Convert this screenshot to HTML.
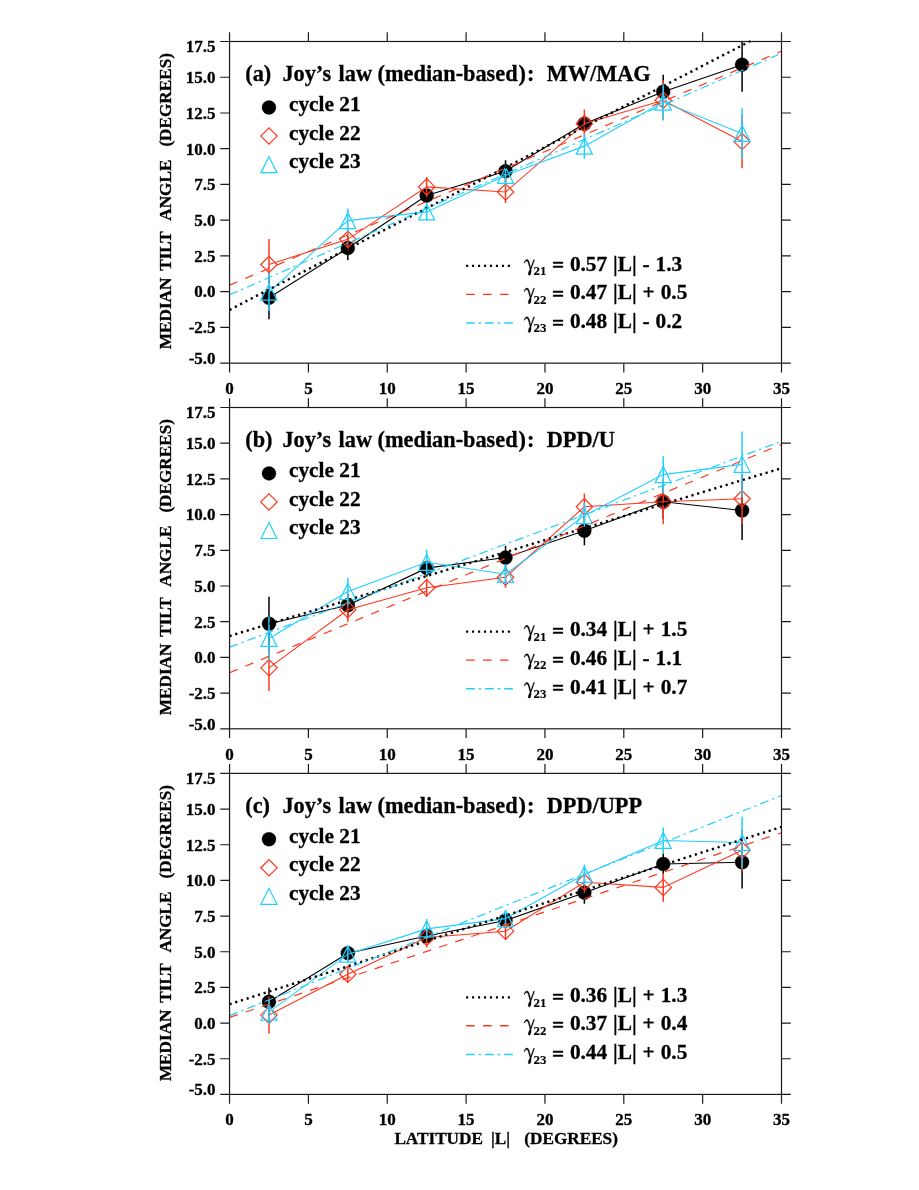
<!DOCTYPE html>
<html><head><meta charset="utf-8"><title>Joy's law</title>
<style>html,body{margin:0;padding:0;background:#fff;}body{width:919px;height:1190px;overflow:hidden;font-family:"Liberation Serif",serif;}svg{display:block;will-change:transform;}</style>
</head><body>
<svg width="919" height="1190" viewBox="0 0 919 1190">
<rect width="919" height="1190" fill="#fff"/>
<g font-family="'Liberation Serif', serif" font-weight="bold" fill="#000" stroke="#000" stroke-width="0.3">
<clipPath id="cp0"><rect x="229.55" y="41.50" width="551.95" height="321.65"/></clipPath>
<clipPath id="cf0"><rect x="229.25" y="40.20" width="552.55" height="324.25"/></clipPath>
<g clip-path="url(#cp0)" fill="none">
<polyline points="268.98,297.82 347.82,248.07 426.68,195.46 505.52,171.16 584.38,123.70 663.23,91.82 742.08,64.66" stroke="#000" stroke-width="1.1"/>
<line x1="268.98" y1="276.38" x2="268.98" y2="319.26" stroke="#000" stroke-width="1.5"/>
<line x1="347.82" y1="235.92" x2="347.82" y2="260.22" stroke="#000" stroke-width="1.5"/>
<line x1="426.68" y1="188.32" x2="426.68" y2="202.61" stroke="#000" stroke-width="1.5"/>
<line x1="505.52" y1="160.15" x2="505.52" y2="182.17" stroke="#000" stroke-width="1.5"/>
<line x1="584.38" y1="116.55" x2="584.38" y2="130.85" stroke="#000" stroke-width="1.5"/>
<line x1="663.23" y1="74.67" x2="663.23" y2="108.98" stroke="#000" stroke-width="1.5"/>
<line x1="742.08" y1="37.50" x2="742.08" y2="91.82" stroke="#000" stroke-width="1.5"/>
<circle cx="268.98" cy="297.82" r="7" fill="#000"/>
<circle cx="347.82" cy="248.07" r="7" fill="#000"/>
<circle cx="426.68" cy="195.46" r="7" fill="#000"/>
<circle cx="505.52" cy="171.16" r="7" fill="#000"/>
<circle cx="584.38" cy="123.70" r="7" fill="#000"/>
<circle cx="663.23" cy="91.82" r="7" fill="#000"/>
<circle cx="742.08" cy="64.66" r="7" fill="#000"/>
<polyline points="268.98,264.51 347.82,239.35 426.68,186.89 505.52,192.03 584.38,123.70 663.23,100.25 742.08,141.57" stroke="#ff371e" stroke-width="1.1"/>
<line x1="268.98" y1="239.06" x2="268.98" y2="289.96" stroke="#ff371e" stroke-width="1.5"/>
<line x1="347.82" y1="227.91" x2="347.82" y2="250.79" stroke="#ff371e" stroke-width="1.5"/>
<line x1="426.68" y1="176.88" x2="426.68" y2="196.89" stroke="#ff371e" stroke-width="1.5"/>
<line x1="505.52" y1="181.02" x2="505.52" y2="203.04" stroke="#ff371e" stroke-width="1.5"/>
<line x1="584.38" y1="109.40" x2="584.38" y2="138.00" stroke="#ff371e" stroke-width="1.5"/>
<line x1="663.23" y1="80.24" x2="663.23" y2="120.27" stroke="#ff371e" stroke-width="1.5"/>
<line x1="742.08" y1="114.84" x2="742.08" y2="168.30" stroke="#ff371e" stroke-width="1.5"/>
<path d="M260.78,264.51L268.98,256.31L277.18,264.51L268.98,272.71Z" stroke="#ff371e" stroke-width="1.2"/>
<path d="M339.62,239.35L347.82,231.15L356.02,239.35L347.82,247.55Z" stroke="#ff371e" stroke-width="1.2"/>
<path d="M418.48,186.89L426.68,178.69L434.88,186.89L426.68,195.09Z" stroke="#ff371e" stroke-width="1.2"/>
<path d="M497.32,192.03L505.52,183.83L513.73,192.03L505.52,200.23Z" stroke="#ff371e" stroke-width="1.2"/>
<path d="M576.17,123.70L584.38,115.50L592.58,123.70L584.38,131.90Z" stroke="#ff371e" stroke-width="1.2"/>
<path d="M655.02,100.25L663.23,92.05L671.43,100.25L663.23,108.45Z" stroke="#ff371e" stroke-width="1.2"/>
<path d="M733.88,141.57L742.08,133.37L750.28,141.57L742.08,149.77Z" stroke="#ff371e" stroke-width="1.2"/>
<polyline points="268.98,292.10 347.82,220.62 426.68,211.90 505.52,175.45 584.38,146.14 663.23,102.11 742.08,133.42" stroke="#20d0ff" stroke-width="1.1"/>
<line x1="268.98" y1="273.09" x2="268.98" y2="311.11" stroke="#20d0ff" stroke-width="1.5"/>
<line x1="347.82" y1="208.47" x2="347.82" y2="232.77" stroke="#20d0ff" stroke-width="1.5"/>
<line x1="426.68" y1="203.33" x2="426.68" y2="220.48" stroke="#20d0ff" stroke-width="1.5"/>
<line x1="505.52" y1="165.44" x2="505.52" y2="185.46" stroke="#20d0ff" stroke-width="1.5"/>
<line x1="584.38" y1="133.56" x2="584.38" y2="158.72" stroke="#20d0ff" stroke-width="1.5"/>
<line x1="663.23" y1="84.10" x2="663.23" y2="120.13" stroke="#20d0ff" stroke-width="1.5"/>
<line x1="742.08" y1="108.26" x2="742.08" y2="158.58" stroke="#20d0ff" stroke-width="1.5"/>
<path d="M260.98,300.10L268.98,284.10L276.98,300.10Z" stroke="#20d0ff" stroke-width="1.2"/>
<path d="M339.82,228.62L347.82,212.62L355.82,228.62Z" stroke="#20d0ff" stroke-width="1.2"/>
<path d="M418.68,219.90L426.68,203.90L434.68,219.90Z" stroke="#20d0ff" stroke-width="1.2"/>
<path d="M497.52,183.45L505.52,167.45L513.52,183.45Z" stroke="#20d0ff" stroke-width="1.2"/>
<path d="M576.38,154.14L584.38,138.14L592.38,154.14Z" stroke="#20d0ff" stroke-width="1.2"/>
<path d="M655.23,110.11L663.23,94.11L671.23,110.11Z" stroke="#20d0ff" stroke-width="1.2"/>
<path d="M734.08,141.42L742.08,125.42L750.08,141.42Z" stroke="#20d0ff" stroke-width="1.2"/>
</g>
<g clip-path="url(#cf0)" fill="none">
<line x1="229.55" y1="309.83" x2="781.50" y2="25.06" stroke="#000" stroke-width="2.4" stroke-dasharray="2.2 3.76"/>
<line x1="229.55" y1="285.10" x2="781.50" y2="51.22" stroke="#ff371e" stroke-width="1.2" stroke-dasharray="8.6 8.4"/>
<line x1="229.55" y1="294.82" x2="781.50" y2="53.22" stroke="#20d0ff" stroke-width="1.2" stroke-dasharray="8.7 3.9 2.3 4.15"/>
</g>
<g stroke="#1a1a1a" stroke-width="1.2" fill="none">
<rect x="229.55" y="41.50" width="551.95" height="321.65"/>
<path d="M229.55,41.50v-9.3M229.55,363.15v9.3M308.40,41.50v-9.3M308.40,363.15v9.3M387.25,41.50v-9.3M387.25,363.15v9.3M466.10,41.50v-9.3M466.10,363.15v9.3M544.95,41.50v-9.3M544.95,363.15v9.3M623.80,41.50v-9.3M623.80,363.15v9.3M702.65,41.50v-9.3M702.65,363.15v9.3M781.50,41.50v-9.3M781.50,363.15v9.3M229.55,363.15h-9.3M781.50,363.15h9.3M229.55,327.41h-9.3M781.50,327.41h9.3M229.55,291.67h-9.3M781.50,291.67h9.3M229.55,255.93h-9.3M781.50,255.93h9.3M229.55,220.19h-9.3M781.50,220.19h9.3M229.55,184.46h-9.3M781.50,184.46h9.3M229.55,148.72h-9.3M781.50,148.72h9.3M229.55,112.98h-9.3M781.50,112.98h9.3M229.55,77.24h-9.3M781.50,77.24h9.3M229.55,41.50h-9.3M781.50,41.50h9.3"/>
</g>
<g font-size="17" text-anchor="end">
<text x="215.6" y="363.85">-5.0</text>
<text x="215.6" y="333.21">-2.5</text>
<text x="215.6" y="297.47">0.0</text>
<text x="215.6" y="261.73">2.5</text>
<text x="215.6" y="225.99">5.0</text>
<text x="215.6" y="190.26">7.5</text>
<text x="215.6" y="154.52">10.0</text>
<text x="215.6" y="118.78">12.5</text>
<text x="215.6" y="83.04">15.0</text>
<text x="215.6" y="51.80">17.5</text>
</g>
<g font-size="17" text-anchor="middle">
<text x="229.55" y="393.95">0</text>
<text x="308.40" y="393.95">5</text>
<text x="387.25" y="393.95">10</text>
<text x="466.10" y="393.95">15</text>
<text x="544.95" y="393.95">20</text>
<text x="623.80" y="393.95">25</text>
<text x="702.65" y="393.95">30</text>
<text x="781.50" y="393.95">35</text>
</g>
<text font-size="17.2" transform="translate(171.3,349.20) rotate(-90)">MEDIAN</text>
<text font-size="17.2" transform="translate(171.3,270.80) rotate(-90)">TILT</text>
<text font-size="17.2" transform="translate(171.3,220.70) rotate(-90)">ANGLE</text>
<text font-size="17.2" transform="translate(171.3,146.60) rotate(-90)">(DEGREES)</text>
<text font-size="22.3" x="245.3" y="80.60">(a)</text>
<text font-size="22.3" x="282.4" y="80.60">Joy’s</text>
<text font-size="22.3" x="338.6" y="80.60">law</text>
<text font-size="22.3" x="377.6" y="80.60">(median-based<tspan dx="1">)</tspan><tspan dx="0.9">:</tspan></text>
<text font-size="22.3" x="546.7" y="80.60">MW/MAG</text>
<circle cx="268.98" cy="107.46" r="7" fill="#000"/>
<path d="M260.78,136.05L268.98,127.85L277.18,136.05L268.98,144.25Z" stroke="#ff371e" stroke-width="1.2" fill="none"/>
<path d="M260.98,172.64L268.98,156.64L276.98,172.64Z" stroke="#20d0ff" stroke-width="1.2" fill="none"/>
<text font-size="21.3" x="289.0" y="111.16">cycle 21</text>
<text font-size="21.3" x="289.0" y="139.75">cycle 22</text>
<text font-size="21.3" x="289.0" y="168.34">cycle 23</text>
<line x1="466.10" y1="265.94" x2="513.41" y2="265.94" stroke="#000" stroke-width="2.3" stroke-dasharray="2.1 3.86"/>
<line x1="466.10" y1="294.39" x2="513.41" y2="294.39" stroke="#ff371e" stroke-width="1.45" stroke-dasharray="8.6 8.35"/>
<line x1="466.10" y1="323.12" x2="513.41" y2="323.12" stroke="#20d0ff" stroke-width="1.5" stroke-dasharray="8.7 3.9 2.3 4.15"/>
<path transform="translate(524.1,270.04)" d="M0,-7.1C0.5,-9.2 1.5,-10.5 2.9,-10.5C4.3,-10.5 5.0,-8.8 5.6,-6.4L6.6,-2.3L9.5,-10.3L10.5,-10.3L7.0,-0.6C7.1,1.4 6.9,3.0 6.5,4.2C6.2,5.0 5.7,5.3 5.2,5.3C4.6,5.3 4.1,4.8 4.1,4.0C4.1,2.8 5.0,1.2 5.9,-0.7L4.3,-6.6C3.8,-8.3 3.2,-9.0 2.4,-9.0C1.6,-9.0 1.0,-8.2 0.6,-6.9Z" fill="#000" stroke="#000" stroke-width="0.3"/>
<text font-size="12.9" x="533.6" y="275.14" stroke-width="0.15">21</text>
<text font-size="21.3" x="551.9" y="272.34">=</text>
<text font-size="21.3" x="569.9" y="270.64" word-spacing="0.6">0.57 |L| - 1.3</text>
<path transform="translate(524.1,298.49)" d="M0,-7.1C0.5,-9.2 1.5,-10.5 2.9,-10.5C4.3,-10.5 5.0,-8.8 5.6,-6.4L6.6,-2.3L9.5,-10.3L10.5,-10.3L7.0,-0.6C7.1,1.4 6.9,3.0 6.5,4.2C6.2,5.0 5.7,5.3 5.2,5.3C4.6,5.3 4.1,4.8 4.1,4.0C4.1,2.8 5.0,1.2 5.9,-0.7L4.3,-6.6C3.8,-8.3 3.2,-9.0 2.4,-9.0C1.6,-9.0 1.0,-8.2 0.6,-6.9Z" fill="#000" stroke="#000" stroke-width="0.3"/>
<text font-size="12.9" x="533.6" y="303.59" stroke-width="0.15">22</text>
<text font-size="21.3" x="551.9" y="300.79">=</text>
<text font-size="21.3" x="569.9" y="299.09" word-spacing="0.6">0.47 |L| + 0.5</text>
<path transform="translate(524.1,327.22)" d="M0,-7.1C0.5,-9.2 1.5,-10.5 2.9,-10.5C4.3,-10.5 5.0,-8.8 5.6,-6.4L6.6,-2.3L9.5,-10.3L10.5,-10.3L7.0,-0.6C7.1,1.4 6.9,3.0 6.5,4.2C6.2,5.0 5.7,5.3 5.2,5.3C4.6,5.3 4.1,4.8 4.1,4.0C4.1,2.8 5.0,1.2 5.9,-0.7L4.3,-6.6C3.8,-8.3 3.2,-9.0 2.4,-9.0C1.6,-9.0 1.0,-8.2 0.6,-6.9Z" fill="#000" stroke="#000" stroke-width="0.3"/>
<text font-size="12.9" x="533.6" y="332.32" stroke-width="0.15">23</text>
<text font-size="21.3" x="551.9" y="329.52">=</text>
<text font-size="21.3" x="569.9" y="327.82" word-spacing="0.6">0.48 |L| - 0.2</text>
<clipPath id="cp1"><rect x="229.55" y="407.50" width="551.95" height="321.30"/></clipPath>
<clipPath id="cf1"><rect x="229.25" y="406.20" width="552.55" height="323.90"/></clipPath>
<g clip-path="url(#cp1)" fill="none">
<polyline points="268.98,623.70 347.82,605.28 426.68,568.15 505.52,557.58 584.38,530.74 663.23,501.75 742.08,510.46" stroke="#000" stroke-width="1.1"/>
<line x1="268.98" y1="596.85" x2="268.98" y2="650.55" stroke="#000" stroke-width="1.5"/>
<line x1="347.82" y1="593.85" x2="347.82" y2="616.70" stroke="#000" stroke-width="1.5"/>
<line x1="426.68" y1="559.58" x2="426.68" y2="576.72" stroke="#000" stroke-width="1.5"/>
<line x1="505.52" y1="545.87" x2="505.52" y2="569.29" stroke="#000" stroke-width="1.5"/>
<line x1="584.38" y1="516.17" x2="584.38" y2="545.30" stroke="#000" stroke-width="1.5"/>
<line x1="663.23" y1="484.61" x2="663.23" y2="518.88" stroke="#000" stroke-width="1.5"/>
<line x1="742.08" y1="481.04" x2="742.08" y2="539.88" stroke="#000" stroke-width="1.5"/>
<circle cx="268.98" cy="623.70" r="7" fill="#000"/>
<circle cx="347.82" cy="605.28" r="7" fill="#000"/>
<circle cx="426.68" cy="568.15" r="7" fill="#000"/>
<circle cx="505.52" cy="557.58" r="7" fill="#000"/>
<circle cx="584.38" cy="530.74" r="7" fill="#000"/>
<circle cx="663.23" cy="501.75" r="7" fill="#000"/>
<circle cx="742.08" cy="510.46" r="7" fill="#000"/>
<polyline points="268.98,667.82 347.82,609.70 426.68,587.71 505.52,577.29 584.38,506.75 663.23,501.75 742.08,498.75" stroke="#ff371e" stroke-width="1.1"/>
<line x1="268.98" y1="644.55" x2="268.98" y2="691.10" stroke="#ff371e" stroke-width="1.5"/>
<line x1="347.82" y1="597.71" x2="347.82" y2="621.70" stroke="#ff371e" stroke-width="1.5"/>
<line x1="426.68" y1="578.57" x2="426.68" y2="596.85" stroke="#ff371e" stroke-width="1.5"/>
<line x1="505.52" y1="566.72" x2="505.52" y2="587.86" stroke="#ff371e" stroke-width="1.5"/>
<line x1="584.38" y1="493.61" x2="584.38" y2="519.88" stroke="#ff371e" stroke-width="1.5"/>
<line x1="663.23" y1="479.33" x2="663.23" y2="524.17" stroke="#ff371e" stroke-width="1.5"/>
<line x1="742.08" y1="473.76" x2="742.08" y2="523.74" stroke="#ff371e" stroke-width="1.5"/>
<path d="M260.78,667.82L268.98,659.62L277.18,667.82L268.98,676.02Z" stroke="#ff371e" stroke-width="1.2"/>
<path d="M339.62,609.70L347.82,601.50L356.02,609.70L347.82,617.90Z" stroke="#ff371e" stroke-width="1.2"/>
<path d="M418.48,587.71L426.68,579.51L434.88,587.71L426.68,595.91Z" stroke="#ff371e" stroke-width="1.2"/>
<path d="M497.32,577.29L505.52,569.09L513.73,577.29L505.52,585.49Z" stroke="#ff371e" stroke-width="1.2"/>
<path d="M576.17,506.75L584.38,498.55L592.58,506.75L584.38,514.95Z" stroke="#ff371e" stroke-width="1.2"/>
<path d="M655.02,501.75L663.23,493.55L671.43,501.75L663.23,509.95Z" stroke="#ff371e" stroke-width="1.2"/>
<path d="M733.88,498.75L742.08,490.55L750.28,498.75L742.08,506.95Z" stroke="#ff371e" stroke-width="1.2"/>
<polyline points="268.98,638.41 347.82,591.57 426.68,562.30 505.52,574.29 584.38,515.60 663.23,474.62 742.08,464.33" stroke="#20d0ff" stroke-width="1.1"/>
<line x1="268.98" y1="616.56" x2="268.98" y2="660.26" stroke="#20d0ff" stroke-width="1.5"/>
<line x1="347.82" y1="577.86" x2="347.82" y2="605.28" stroke="#20d0ff" stroke-width="1.5"/>
<line x1="426.68" y1="549.87" x2="426.68" y2="574.72" stroke="#20d0ff" stroke-width="1.5"/>
<line x1="505.52" y1="564.29" x2="505.52" y2="584.29" stroke="#20d0ff" stroke-width="1.5"/>
<line x1="584.38" y1="502.75" x2="584.38" y2="528.45" stroke="#20d0ff" stroke-width="1.5"/>
<line x1="663.23" y1="456.19" x2="663.23" y2="493.04" stroke="#20d0ff" stroke-width="1.5"/>
<line x1="742.08" y1="431.49" x2="742.08" y2="497.18" stroke="#20d0ff" stroke-width="1.5"/>
<path d="M260.98,646.41L268.98,630.41L276.98,646.41Z" stroke="#20d0ff" stroke-width="1.2"/>
<path d="M339.82,599.57L347.82,583.57L355.82,599.57Z" stroke="#20d0ff" stroke-width="1.2"/>
<path d="M418.68,570.30L426.68,554.30L434.68,570.30Z" stroke="#20d0ff" stroke-width="1.2"/>
<path d="M497.52,582.29L505.52,566.29L513.52,582.29Z" stroke="#20d0ff" stroke-width="1.2"/>
<path d="M576.38,523.60L584.38,507.60L592.38,523.60Z" stroke="#20d0ff" stroke-width="1.2"/>
<path d="M655.23,482.62L663.23,466.62L671.23,482.62Z" stroke="#20d0ff" stroke-width="1.2"/>
<path d="M734.08,472.33L742.08,456.33L750.08,472.33Z" stroke="#20d0ff" stroke-width="1.2"/>
</g>
<g clip-path="url(#cf1)" fill="none">
<line x1="229.55" y1="635.98" x2="781.50" y2="468.19" stroke="#000" stroke-width="2.4" stroke-dasharray="2.2 3.76"/>
<line x1="229.55" y1="672.68" x2="781.50" y2="444.34" stroke="#ff371e" stroke-width="1.2" stroke-dasharray="8.6 8.4"/>
<line x1="229.55" y1="647.12" x2="781.50" y2="441.34" stroke="#20d0ff" stroke-width="1.2" stroke-dasharray="8.7 3.9 2.3 4.15"/>
</g>
<g stroke="#1a1a1a" stroke-width="1.2" fill="none">
<rect x="229.55" y="407.50" width="551.95" height="321.30"/>
<path d="M229.55,407.50v-9.3M229.55,728.80v9.3M308.40,407.50v-9.3M308.40,728.80v9.3M387.25,407.50v-9.3M387.25,728.80v9.3M466.10,407.50v-9.3M466.10,728.80v9.3M544.95,407.50v-9.3M544.95,728.80v9.3M623.80,407.50v-9.3M623.80,728.80v9.3M702.65,407.50v-9.3M702.65,728.80v9.3M781.50,407.50v-9.3M781.50,728.80v9.3M229.55,728.80h-9.3M781.50,728.80h9.3M229.55,693.10h-9.3M781.50,693.10h9.3M229.55,657.40h-9.3M781.50,657.40h9.3M229.55,621.70h-9.3M781.50,621.70h9.3M229.55,586.00h-9.3M781.50,586.00h9.3M229.55,550.30h-9.3M781.50,550.30h9.3M229.55,514.60h-9.3M781.50,514.60h9.3M229.55,478.90h-9.3M781.50,478.90h9.3M229.55,443.20h-9.3M781.50,443.20h9.3M229.55,407.50h-9.3M781.50,407.50h9.3"/>
</g>
<g font-size="17" text-anchor="end">
<text x="215.6" y="729.50">-5.0</text>
<text x="215.6" y="698.90">-2.5</text>
<text x="215.6" y="663.20">0.0</text>
<text x="215.6" y="627.50">2.5</text>
<text x="215.6" y="591.80">5.0</text>
<text x="215.6" y="556.10">7.5</text>
<text x="215.6" y="520.40">10.0</text>
<text x="215.6" y="484.70">12.5</text>
<text x="215.6" y="449.00">15.0</text>
<text x="215.6" y="417.80">17.5</text>
</g>
<g font-size="17" text-anchor="middle">
<text x="229.55" y="759.60">0</text>
<text x="308.40" y="759.60">5</text>
<text x="387.25" y="759.60">10</text>
<text x="466.10" y="759.60">15</text>
<text x="544.95" y="759.60">20</text>
<text x="623.80" y="759.60">25</text>
<text x="702.65" y="759.60">30</text>
<text x="781.50" y="759.60">35</text>
</g>
<text font-size="17.2" transform="translate(171.3,715.20) rotate(-90)">MEDIAN</text>
<text font-size="17.2" transform="translate(171.3,636.80) rotate(-90)">TILT</text>
<text font-size="17.2" transform="translate(171.3,586.70) rotate(-90)">ANGLE</text>
<text font-size="17.2" transform="translate(171.3,512.60) rotate(-90)">(DEGREES)</text>
<text font-size="22.3" x="245.3" y="446.60">(b)</text>
<text font-size="22.3" x="282.4" y="446.60">Joy’s</text>
<text font-size="22.3" x="338.6" y="446.60">law</text>
<text font-size="22.3" x="377.6" y="446.60">(median-based<tspan dx="1">)</tspan><tspan dx="0.9">:</tspan></text>
<text font-size="22.3" x="546.7" y="446.60">DPD/U</text>
<circle cx="268.98" cy="473.39" r="7" fill="#000"/>
<path d="M260.78,501.95L268.98,493.75L277.18,501.95L268.98,510.15Z" stroke="#ff371e" stroke-width="1.2" fill="none"/>
<path d="M260.98,538.51L268.98,522.51L276.98,538.51Z" stroke="#20d0ff" stroke-width="1.2" fill="none"/>
<text font-size="21.3" x="289.0" y="477.09">cycle 21</text>
<text font-size="21.3" x="289.0" y="505.65">cycle 22</text>
<text font-size="21.3" x="289.0" y="534.21">cycle 23</text>
<line x1="466.10" y1="631.70" x2="513.41" y2="631.70" stroke="#000" stroke-width="2.3" stroke-dasharray="2.1 3.86"/>
<line x1="466.10" y1="660.11" x2="513.41" y2="660.11" stroke="#ff371e" stroke-width="1.45" stroke-dasharray="8.6 8.35"/>
<line x1="466.10" y1="688.82" x2="513.41" y2="688.82" stroke="#20d0ff" stroke-width="1.5" stroke-dasharray="8.7 3.9 2.3 4.15"/>
<path transform="translate(524.1,635.80)" d="M0,-7.1C0.5,-9.2 1.5,-10.5 2.9,-10.5C4.3,-10.5 5.0,-8.8 5.6,-6.4L6.6,-2.3L9.5,-10.3L10.5,-10.3L7.0,-0.6C7.1,1.4 6.9,3.0 6.5,4.2C6.2,5.0 5.7,5.3 5.2,5.3C4.6,5.3 4.1,4.8 4.1,4.0C4.1,2.8 5.0,1.2 5.9,-0.7L4.3,-6.6C3.8,-8.3 3.2,-9.0 2.4,-9.0C1.6,-9.0 1.0,-8.2 0.6,-6.9Z" fill="#000" stroke="#000" stroke-width="0.3"/>
<text font-size="12.9" x="533.6" y="640.90" stroke-width="0.15">21</text>
<text font-size="21.3" x="551.9" y="638.10">=</text>
<text font-size="21.3" x="569.9" y="636.40" word-spacing="0.6">0.34 |L| + 1.5</text>
<path transform="translate(524.1,664.21)" d="M0,-7.1C0.5,-9.2 1.5,-10.5 2.9,-10.5C4.3,-10.5 5.0,-8.8 5.6,-6.4L6.6,-2.3L9.5,-10.3L10.5,-10.3L7.0,-0.6C7.1,1.4 6.9,3.0 6.5,4.2C6.2,5.0 5.7,5.3 5.2,5.3C4.6,5.3 4.1,4.8 4.1,4.0C4.1,2.8 5.0,1.2 5.9,-0.7L4.3,-6.6C3.8,-8.3 3.2,-9.0 2.4,-9.0C1.6,-9.0 1.0,-8.2 0.6,-6.9Z" fill="#000" stroke="#000" stroke-width="0.3"/>
<text font-size="12.9" x="533.6" y="669.31" stroke-width="0.15">22</text>
<text font-size="21.3" x="551.9" y="666.51">=</text>
<text font-size="21.3" x="569.9" y="664.81" word-spacing="0.6">0.46 |L| - 1.1</text>
<path transform="translate(524.1,692.92)" d="M0,-7.1C0.5,-9.2 1.5,-10.5 2.9,-10.5C4.3,-10.5 5.0,-8.8 5.6,-6.4L6.6,-2.3L9.5,-10.3L10.5,-10.3L7.0,-0.6C7.1,1.4 6.9,3.0 6.5,4.2C6.2,5.0 5.7,5.3 5.2,5.3C4.6,5.3 4.1,4.8 4.1,4.0C4.1,2.8 5.0,1.2 5.9,-0.7L4.3,-6.6C3.8,-8.3 3.2,-9.0 2.4,-9.0C1.6,-9.0 1.0,-8.2 0.6,-6.9Z" fill="#000" stroke="#000" stroke-width="0.3"/>
<text font-size="12.9" x="533.6" y="698.02" stroke-width="0.15">23</text>
<text font-size="21.3" x="551.9" y="695.22">=</text>
<text font-size="21.3" x="569.9" y="693.52" word-spacing="0.6">0.41 |L| + 0.7</text>
<clipPath id="cp2"><rect x="229.55" y="773.40" width="551.95" height="321.00"/></clipPath>
<clipPath id="cf2"><rect x="229.25" y="772.10" width="552.55" height="323.60"/></clipPath>
<g clip-path="url(#cp2)" fill="none">
<polyline points="268.98,1001.81 347.82,953.16 426.68,936.04 505.52,920.49 584.38,892.67 663.23,863.99 742.08,862.28" stroke="#000" stroke-width="1.1"/>
<line x1="268.98" y1="987.54" x2="268.98" y2="1016.08" stroke="#000" stroke-width="1.5"/>
<line x1="347.82" y1="946.03" x2="347.82" y2="960.29" stroke="#000" stroke-width="1.5"/>
<line x1="426.68" y1="928.91" x2="426.68" y2="943.17" stroke="#000" stroke-width="1.5"/>
<line x1="505.52" y1="913.36" x2="505.52" y2="927.62" stroke="#000" stroke-width="1.5"/>
<line x1="584.38" y1="881.68" x2="584.38" y2="903.65" stroke="#000" stroke-width="1.5"/>
<line x1="663.23" y1="853.44" x2="663.23" y2="874.55" stroke="#000" stroke-width="1.5"/>
<line x1="742.08" y1="836.17" x2="742.08" y2="888.39" stroke="#000" stroke-width="1.5"/>
<circle cx="268.98" cy="1001.81" r="7" fill="#000"/>
<circle cx="347.82" cy="953.16" r="7" fill="#000"/>
<circle cx="426.68" cy="936.04" r="7" fill="#000"/>
<circle cx="505.52" cy="920.49" r="7" fill="#000"/>
<circle cx="584.38" cy="892.67" r="7" fill="#000"/>
<circle cx="663.23" cy="863.99" r="7" fill="#000"/>
<circle cx="742.08" cy="862.28" r="7" fill="#000"/>
<polyline points="268.98,1015.08 347.82,974.27 426.68,937.47 505.52,931.19 584.38,882.25 663.23,887.39 742.08,850.30" stroke="#ff371e" stroke-width="1.1"/>
<line x1="268.98" y1="996.53" x2="268.98" y2="1033.62" stroke="#ff371e" stroke-width="1.5"/>
<line x1="347.82" y1="965.71" x2="347.82" y2="982.83" stroke="#ff371e" stroke-width="1.5"/>
<line x1="426.68" y1="927.48" x2="426.68" y2="947.45" stroke="#ff371e" stroke-width="1.5"/>
<line x1="505.52" y1="922.77" x2="505.52" y2="939.61" stroke="#ff371e" stroke-width="1.5"/>
<line x1="584.38" y1="871.84" x2="584.38" y2="892.67" stroke="#ff371e" stroke-width="1.5"/>
<line x1="663.23" y1="873.12" x2="663.23" y2="901.66" stroke="#ff371e" stroke-width="1.5"/>
<line x1="742.08" y1="829.33" x2="742.08" y2="871.27" stroke="#ff371e" stroke-width="1.5"/>
<path d="M260.78,1015.08L268.98,1006.88L277.18,1015.08L268.98,1023.28Z" stroke="#ff371e" stroke-width="1.2"/>
<path d="M339.62,974.27L347.82,966.07L356.02,974.27L347.82,982.47Z" stroke="#ff371e" stroke-width="1.2"/>
<path d="M418.48,937.47L426.68,929.27L434.88,937.47L426.68,945.67Z" stroke="#ff371e" stroke-width="1.2"/>
<path d="M497.32,931.19L505.52,922.99L513.73,931.19L505.52,939.39Z" stroke="#ff371e" stroke-width="1.2"/>
<path d="M576.17,882.25L584.38,874.05L592.58,882.25L584.38,890.45Z" stroke="#ff371e" stroke-width="1.2"/>
<path d="M655.02,887.39L663.23,879.19L671.43,887.39L663.23,895.59Z" stroke="#ff371e" stroke-width="1.2"/>
<path d="M733.88,850.30L742.08,842.10L750.28,850.30L742.08,858.50Z" stroke="#ff371e" stroke-width="1.2"/>
<polyline points="268.98,1012.08 347.82,954.16 426.68,928.91 505.52,918.63 584.38,874.41 663.23,840.45 742.08,842.45" stroke="#20d0ff" stroke-width="1.1"/>
<line x1="268.98" y1="1000.10" x2="268.98" y2="1024.07" stroke="#20d0ff" stroke-width="1.5"/>
<line x1="347.82" y1="945.60" x2="347.82" y2="962.72" stroke="#20d0ff" stroke-width="1.5"/>
<line x1="426.68" y1="918.92" x2="426.68" y2="938.89" stroke="#20d0ff" stroke-width="1.5"/>
<line x1="505.52" y1="910.07" x2="505.52" y2="927.19" stroke="#20d0ff" stroke-width="1.5"/>
<line x1="584.38" y1="864.42" x2="584.38" y2="884.39" stroke="#20d0ff" stroke-width="1.5"/>
<line x1="663.23" y1="827.47" x2="663.23" y2="853.44" stroke="#20d0ff" stroke-width="1.5"/>
<line x1="742.08" y1="816.77" x2="742.08" y2="868.13" stroke="#20d0ff" stroke-width="1.5"/>
<path d="M260.98,1020.08L268.98,1004.08L276.98,1020.08Z" stroke="#20d0ff" stroke-width="1.2"/>
<path d="M339.82,962.16L347.82,946.16L355.82,962.16Z" stroke="#20d0ff" stroke-width="1.2"/>
<path d="M418.68,936.91L426.68,920.91L434.68,936.91Z" stroke="#20d0ff" stroke-width="1.2"/>
<path d="M497.52,926.63L505.52,910.63L513.52,926.63Z" stroke="#20d0ff" stroke-width="1.2"/>
<path d="M576.38,882.41L584.38,866.41L592.38,882.41Z" stroke="#20d0ff" stroke-width="1.2"/>
<path d="M655.23,848.45L663.23,832.45L671.23,848.45Z" stroke="#20d0ff" stroke-width="1.2"/>
<path d="M734.08,850.45L742.08,834.45L750.08,850.45Z" stroke="#20d0ff" stroke-width="1.2"/>
</g>
<g clip-path="url(#cf2)" fill="none">
<line x1="229.55" y1="1004.23" x2="781.50" y2="826.90" stroke="#000" stroke-width="2.4" stroke-dasharray="2.2 3.76"/>
<line x1="229.55" y1="1017.36" x2="781.50" y2="832.75" stroke="#ff371e" stroke-width="1.2" stroke-dasharray="8.6 8.4"/>
<line x1="229.55" y1="1015.65" x2="781.50" y2="795.51" stroke="#20d0ff" stroke-width="1.2" stroke-dasharray="8.7 3.9 2.3 4.15"/>
</g>
<g stroke="#1a1a1a" stroke-width="1.2" fill="none">
<rect x="229.55" y="773.40" width="551.95" height="321.00"/>
<path d="M229.55,773.40v-9.3M229.55,1094.40v9.3M308.40,773.40v-9.3M308.40,1094.40v9.3M387.25,773.40v-9.3M387.25,1094.40v9.3M466.10,773.40v-9.3M466.10,1094.40v9.3M544.95,773.40v-9.3M544.95,1094.40v9.3M623.80,773.40v-9.3M623.80,1094.40v9.3M702.65,773.40v-9.3M702.65,1094.40v9.3M781.50,773.40v-9.3M781.50,1094.40v9.3M229.55,1094.40h-9.3M781.50,1094.40h9.3M229.55,1058.73h-9.3M781.50,1058.73h9.3M229.55,1023.07h-9.3M781.50,1023.07h9.3M229.55,987.40h-9.3M781.50,987.40h9.3M229.55,951.73h-9.3M781.50,951.73h9.3M229.55,916.07h-9.3M781.50,916.07h9.3M229.55,880.40h-9.3M781.50,880.40h9.3M229.55,844.73h-9.3M781.50,844.73h9.3M229.55,809.07h-9.3M781.50,809.07h9.3M229.55,773.40h-9.3M781.50,773.40h9.3"/>
</g>
<g font-size="17" text-anchor="end">
<text x="215.6" y="1095.10">-5.0</text>
<text x="215.6" y="1064.53">-2.5</text>
<text x="215.6" y="1028.87">0.0</text>
<text x="215.6" y="993.20">2.5</text>
<text x="215.6" y="957.53">5.0</text>
<text x="215.6" y="921.87">7.5</text>
<text x="215.6" y="886.20">10.0</text>
<text x="215.6" y="850.53">12.5</text>
<text x="215.6" y="814.87">15.0</text>
<text x="215.6" y="783.70">17.5</text>
</g>
<g font-size="17" text-anchor="middle">
<text x="229.55" y="1125.20">0</text>
<text x="308.40" y="1125.20">5</text>
<text x="387.25" y="1125.20">10</text>
<text x="466.10" y="1125.20">15</text>
<text x="544.95" y="1125.20">20</text>
<text x="623.80" y="1125.20">25</text>
<text x="702.65" y="1125.20">30</text>
<text x="781.50" y="1125.20">35</text>
</g>
<text font-size="17.2" transform="translate(171.3,1081.10) rotate(-90)">MEDIAN</text>
<text font-size="17.2" transform="translate(171.3,1002.70) rotate(-90)">TILT</text>
<text font-size="17.2" transform="translate(171.3,952.60) rotate(-90)">ANGLE</text>
<text font-size="17.2" transform="translate(171.3,878.50) rotate(-90)">(DEGREES)</text>
<text font-size="22.3" x="245.3" y="812.50">(c)</text>
<text font-size="22.3" x="282.4" y="812.50">Joy’s</text>
<text font-size="22.3" x="338.6" y="812.50">law</text>
<text font-size="22.3" x="377.6" y="812.50">(median-based<tspan dx="1">)</tspan><tspan dx="0.9">:</tspan></text>
<text font-size="22.3" x="546.7" y="812.50">DPD/UPP</text>
<circle cx="268.98" cy="839.23" r="7" fill="#000"/>
<path d="M260.78,867.76L268.98,859.56L277.18,867.76L268.98,875.96Z" stroke="#ff371e" stroke-width="1.2" fill="none"/>
<path d="M260.98,904.29L268.98,888.29L276.98,904.29Z" stroke="#20d0ff" stroke-width="1.2" fill="none"/>
<text font-size="21.3" x="289.0" y="842.93">cycle 21</text>
<text font-size="21.3" x="289.0" y="871.46">cycle 22</text>
<text font-size="21.3" x="289.0" y="899.99">cycle 23</text>
<line x1="466.10" y1="997.39" x2="513.41" y2="997.39" stroke="#000" stroke-width="2.3" stroke-dasharray="2.1 3.86"/>
<line x1="466.10" y1="1025.78" x2="513.41" y2="1025.78" stroke="#ff371e" stroke-width="1.45" stroke-dasharray="8.6 8.35"/>
<line x1="466.10" y1="1054.45" x2="513.41" y2="1054.45" stroke="#20d0ff" stroke-width="1.5" stroke-dasharray="8.7 3.9 2.3 4.15"/>
<path transform="translate(524.1,1001.49)" d="M0,-7.1C0.5,-9.2 1.5,-10.5 2.9,-10.5C4.3,-10.5 5.0,-8.8 5.6,-6.4L6.6,-2.3L9.5,-10.3L10.5,-10.3L7.0,-0.6C7.1,1.4 6.9,3.0 6.5,4.2C6.2,5.0 5.7,5.3 5.2,5.3C4.6,5.3 4.1,4.8 4.1,4.0C4.1,2.8 5.0,1.2 5.9,-0.7L4.3,-6.6C3.8,-8.3 3.2,-9.0 2.4,-9.0C1.6,-9.0 1.0,-8.2 0.6,-6.9Z" fill="#000" stroke="#000" stroke-width="0.3"/>
<text font-size="12.9" x="533.6" y="1006.59" stroke-width="0.15">21</text>
<text font-size="21.3" x="551.9" y="1003.79">=</text>
<text font-size="21.3" x="569.9" y="1002.09" word-spacing="0.6">0.36 |L| + 1.3</text>
<path transform="translate(524.1,1029.88)" d="M0,-7.1C0.5,-9.2 1.5,-10.5 2.9,-10.5C4.3,-10.5 5.0,-8.8 5.6,-6.4L6.6,-2.3L9.5,-10.3L10.5,-10.3L7.0,-0.6C7.1,1.4 6.9,3.0 6.5,4.2C6.2,5.0 5.7,5.3 5.2,5.3C4.6,5.3 4.1,4.8 4.1,4.0C4.1,2.8 5.0,1.2 5.9,-0.7L4.3,-6.6C3.8,-8.3 3.2,-9.0 2.4,-9.0C1.6,-9.0 1.0,-8.2 0.6,-6.9Z" fill="#000" stroke="#000" stroke-width="0.3"/>
<text font-size="12.9" x="533.6" y="1034.98" stroke-width="0.15">22</text>
<text font-size="21.3" x="551.9" y="1032.18">=</text>
<text font-size="21.3" x="569.9" y="1030.48" word-spacing="0.6">0.37 |L| + 0.4</text>
<path transform="translate(524.1,1058.55)" d="M0,-7.1C0.5,-9.2 1.5,-10.5 2.9,-10.5C4.3,-10.5 5.0,-8.8 5.6,-6.4L6.6,-2.3L9.5,-10.3L10.5,-10.3L7.0,-0.6C7.1,1.4 6.9,3.0 6.5,4.2C6.2,5.0 5.7,5.3 5.2,5.3C4.6,5.3 4.1,4.8 4.1,4.0C4.1,2.8 5.0,1.2 5.9,-0.7L4.3,-6.6C3.8,-8.3 3.2,-9.0 2.4,-9.0C1.6,-9.0 1.0,-8.2 0.6,-6.9Z" fill="#000" stroke="#000" stroke-width="0.3"/>
<text font-size="12.9" x="533.6" y="1063.65" stroke-width="0.15">23</text>
<text font-size="21.3" x="551.9" y="1060.85">=</text>
<text font-size="21.3" x="569.9" y="1059.15" word-spacing="0.6">0.44 |L| + 0.5</text>
<text font-size="17.2" x="394.4" y="1143.6">LATITUDE</text>
<text font-size="17.2" x="491.0" y="1143.6">|L|</text>
<text font-size="17.2" x="524.3" y="1143.6">(DEGREES)</text>
</g></svg>
</body></html>
